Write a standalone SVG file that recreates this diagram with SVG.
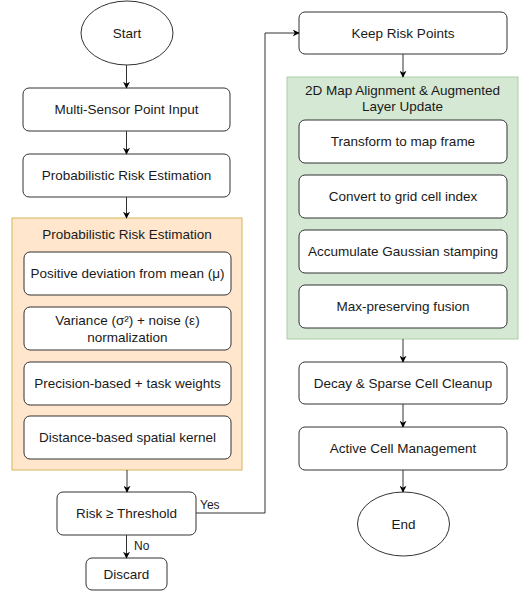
<svg xmlns="http://www.w3.org/2000/svg" width="529" height="592" viewBox="0 0 529 592">
<defs>
<marker id="ah" viewBox="0 0 10 10" refX="9" refY="5" markerWidth="7" markerHeight="7" orient="auto" markerUnits="userSpaceOnUse">
<path d="M0,0 L10,5 L0,10 L3,5 Z" fill="#000"/>
</marker>
</defs>
<style>
text{font-family:"Liberation Sans",Arial,sans-serif;font-size:13.5px;fill:#1a1a1a;text-anchor:middle;dominant-baseline:central}
.box{fill:#fff;stroke:#333;stroke-width:1}
.term{fill:#fff;stroke:#333;stroke-width:1}
.orange{fill:#ffe6cc;stroke:#d6b656;stroke-width:1}
.green{fill:#d5e8d4;stroke:#a9cfa2;stroke-width:1}
.edge{fill:none;stroke:#333;stroke-width:1;marker-end:url(#ah)}
.lbl{font-size:12px;text-anchor:start}
</style>
<rect width="529" height="592" fill="#fff"/>

<g id="start"><ellipse class="term" cx="127" cy="33" rx="46" ry="32"/><text x="127" y="33">Start</text></g>
<g id="input"><rect class="box" x="23" y="88" width="207" height="43" rx="6"/><text x="126.5" y="109.5">Multi-Sensor Point Input</text></g>
<g id="pre"><rect class="box" x="23" y="154" width="207" height="43" rx="6"/><text x="126.5" y="175.5">Probabilistic Risk Estimation</text></g>

<g id="risk-group">
<rect class="orange" x="12" y="218" width="230" height="252"/>
<text x="127" y="234">Probabilistic Risk Estimation</text>
</g>
<g id="r1"><rect class="box" x="24" y="252" width="207" height="43" rx="6"/><text x="127.5" y="273.5">Positive deviation from mean (μ)</text></g>
<g id="r2"><rect class="box" x="24" y="307" width="207" height="43" rx="6"/><text x="127.5" y="320">Variance (σ²) + noise (ε)</text><text x="127.5" y="337">normalization</text></g>
<g id="r3"><rect class="box" x="24" y="362" width="207" height="43" rx="6"/><text x="127.5" y="383.5">Precision-based + task weights</text></g>
<g id="r4"><rect class="box" x="24" y="416" width="207" height="43" rx="6"/><text x="127.5" y="437.5">Distance-based spatial kernel</text></g>

<g id="decision"><rect class="box" x="57" y="492" width="139" height="43" rx="6"/><text x="126.5" y="513.5">Risk ≥ Threshold</text></g>
<g id="discard"><rect class="box" x="86" y="558" width="81" height="32" rx="6"/><text x="126.5" y="574">Discard</text></g>

<g id="keep"><rect class="box" x="299" y="12" width="208" height="42" rx="6"/><text x="403" y="33">Keep Risk Points</text></g>
<g id="map-group">
<rect class="green" x="287" y="77" width="231" height="262"/>
<text x="402.5" y="90">2D Map Alignment &amp; Augmented</text>
<text x="402.5" y="106">Layer Update</text>
</g>
<g id="m1"><rect class="box" x="299" y="120" width="208" height="43" rx="6"/><text x="403" y="141.5">Transform to map frame</text></g>
<g id="m2"><rect class="box" x="299" y="175" width="208" height="43" rx="6"/><text x="403" y="196.5">Convert to grid cell index</text></g>
<g id="m3"><rect class="box" x="299" y="230" width="208" height="43" rx="6"/><text x="403" y="251.5">Accumulate Gaussian stamping</text></g>
<g id="m4"><rect class="box" x="299" y="285" width="208" height="43" rx="6"/><text x="403" y="306.5">Max-preserving fusion</text></g>
<g id="decay"><rect class="box" x="299" y="362" width="208" height="42" rx="6"/><text x="403" y="383">Decay &amp; Sparse Cell Cleanup</text></g>
<g id="active"><rect class="box" x="299" y="427" width="208" height="43" rx="6"/><text x="403" y="448.5">Active Cell Management</text></g>
<g id="end"><ellipse class="term" cx="403.5" cy="524" rx="46" ry="32"/><text x="403.5" y="524">End</text></g>

<g id="connectors">
<path class="edge" d="M126.5,65 V88"/>
<path class="edge" d="M126.5,131 V154"/>
<path class="edge" d="M126.5,197 V218"/>
<path class="edge" d="M127,470 V492"/>
<path class="edge" d="M126.5,535 V558"/>
<path class="edge" d="M196,513 H265 V33 H299"/>
<path class="edge" d="M403,54 V77"/>
<path class="edge" d="M403,339 V362"/>
<path class="edge" d="M403,404 V427"/>
<path class="edge" d="M403,470 V492"/>
<text class="lbl" x="200" y="505">Yes</text>
<text class="lbl" x="134" y="546">No</text>
</g>
</svg>
